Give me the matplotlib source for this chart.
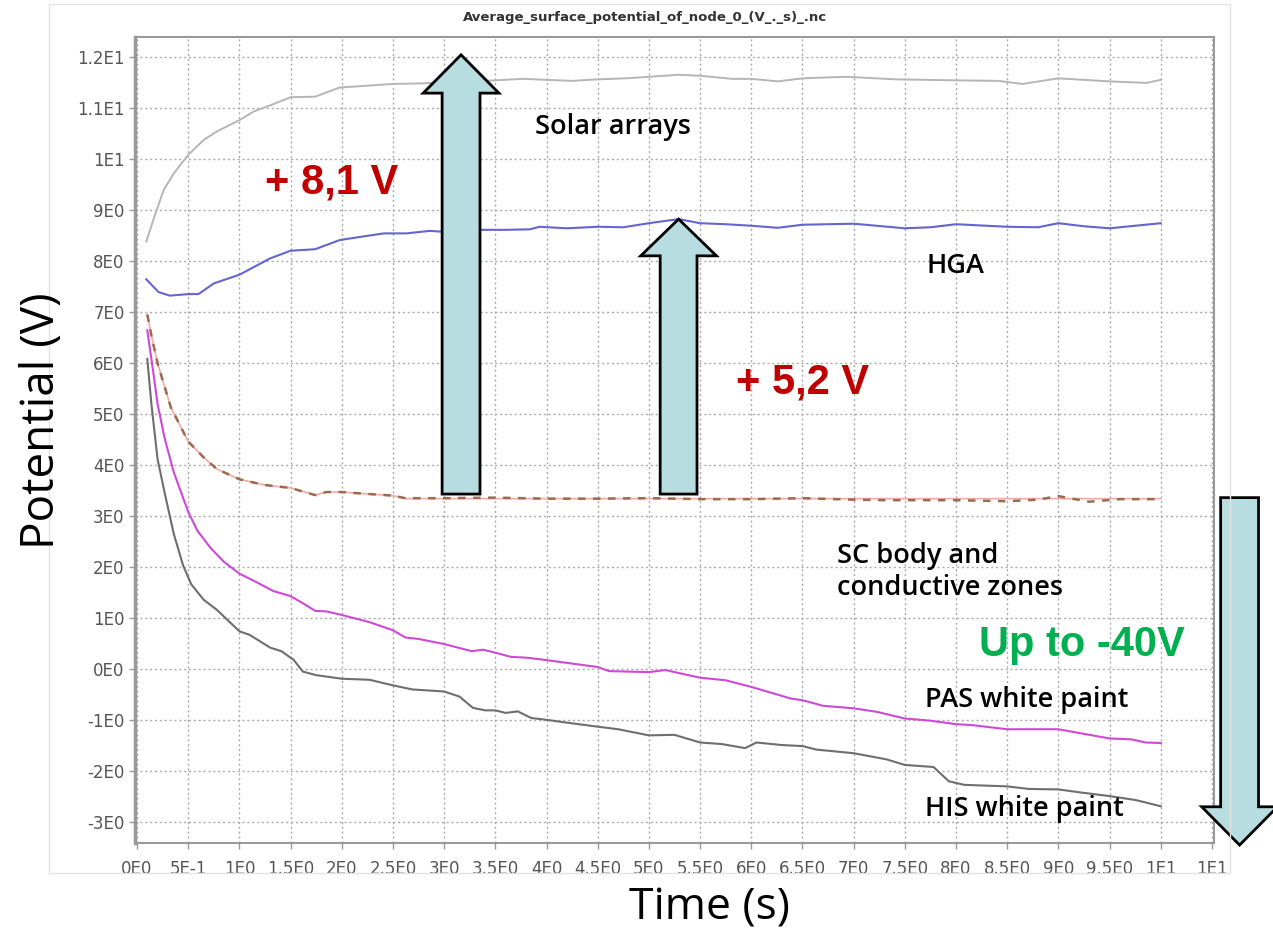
import numpy as np
import matplotlib
matplotlib.use('Agg')
import matplotlib.pyplot as plt
from matplotlib.patches import FancyArrow, Rectangle

# values (time in s, potential in V)
t_solar = [0.09, 0.18, 0.26, 0.36, 0.5, 0.65, 0.78, 1.0, 1.14, 1.3, 1.5, 1.74, 1.98, 2.21,
           2.5, 2.76, 3.0, 3.25, 3.5, 3.77, 4.0, 4.25, 4.5, 4.78, 5.0, 5.29, 5.5, 5.81, 6.0,
           6.26, 6.5, 6.93, 7.41, 8.0, 8.41, 8.65, 9.0, 9.5, 9.86, 10.0]
v_solar = [8.38, 8.93, 9.39, 9.72, 10.08, 10.37, 10.54, 10.76, 10.93, 11.05, 11.21, 11.22, 11.40, 11.43,
           11.47, 11.48, 11.50, 11.52, 11.54, 11.57, 11.55, 11.53, 11.56, 11.58, 11.61, 11.65, 11.63, 11.57, 11.57,
           11.52, 11.58, 11.61, 11.56, 11.54, 11.53, 11.47, 11.58, 11.52, 11.49, 11.55]

t_hga = [0.09, 0.21, 0.32, 0.5, 0.6, 0.75, 1.0, 1.3, 1.5, 1.74, 1.98, 2.21, 2.41, 2.63, 2.86, 3.0,
         3.35, 3.6, 3.84, 3.93, 4.2, 4.5, 4.75, 5.0, 5.29, 5.5, 5.75, 6.0, 6.26, 6.5, 7.0, 7.5,
         7.75, 8.0, 8.5, 8.8, 9.0, 9.25, 9.5, 10.0]
v_hga = [7.64, 7.39, 7.32, 7.35, 7.35, 7.56, 7.73, 8.05, 8.20, 8.23, 8.41, 8.48, 8.54, 8.54, 8.59, 8.57,
         8.61, 8.61, 8.62, 8.67, 8.64, 8.67, 8.66, 8.74, 8.82, 8.74, 8.72, 8.69, 8.65, 8.71, 8.73, 8.64,
         8.66, 8.72, 8.67, 8.66, 8.74, 8.68, 8.64, 8.74]

t_sc = [0.10, 0.14, 0.20, 0.27, 0.33, 0.5, 0.65, 0.78, 1.0, 1.24, 1.5, 1.62, 1.74, 1.85, 2.0, 2.27,
        2.5, 2.62, 3.0, 3.5, 4.0, 4.5, 5.0, 5.5, 6.0, 6.5, 7.0, 7.3, 7.5, 8.0, 8.5, 8.8, 9.0, 9.3,
        9.6, 10.0]
v_sc = [6.95, 6.54, 6.0, 5.53, 5.13, 4.46, 4.15, 3.92, 3.72, 3.61, 3.55, 3.48, 3.41, 3.47, 3.47, 3.43,
        3.40, 3.35, 3.35, 3.36, 3.34, 3.34, 3.35, 3.33, 3.33, 3.35, 3.32, 3.31, 3.31, 3.31, 3.29, 3.32, 3.39, 3.28,
        3.33, 3.33]

t_cond = [0.10, 0.14, 0.20, 0.27, 0.33, 0.5, 0.65, 0.78, 1.0, 1.24, 1.5, 1.62, 1.74, 1.85, 2.0, 2.27,
          2.5, 2.62, 10.0]
v_cond = [6.95, 6.54, 6.0, 5.53, 5.13, 4.46, 4.15, 3.92, 3.72, 3.61, 3.55, 3.48, 3.41, 3.47, 3.47, 3.43,
          3.40, 3.34, 3.34]

t_pas = [0.10, 0.155, 0.2, 0.27, 0.36, 0.5, 0.59, 0.72, 0.85, 1.0, 1.17, 1.33, 1.5, 1.62, 1.74, 1.85,
         2.0, 2.27, 2.5, 2.62, 2.75, 3.0, 3.27, 3.38, 3.5, 3.65, 3.82, 3.98, 4.5, 4.61, 5.0, 5.16,
         5.5, 5.75, 6.0, 6.39, 6.5, 6.7, 7.0, 7.23, 7.5, 7.74, 8.0, 8.16, 8.5, 9.0, 9.22, 9.5,
         9.72, 9.85, 10.0]
v_pas = [6.64, 5.87, 5.20, 4.52, 3.85, 3.08, 2.71, 2.37, 2.10, 1.87, 1.70, 1.53, 1.43, 1.29, 1.14, 1.13,
         1.06, 0.92, 0.76, 0.62, 0.59, 0.49, 0.35, 0.38, 0.32, 0.24, 0.22, 0.18, 0.04, -0.04, -0.06, -0.02,
         -0.17, -0.22, -0.35, -0.58, -0.61, -0.72, -0.77, -0.84, -0.97, -1.01, -1.08, -1.10, -1.18, -1.18, -1.26, -1.36,
         -1.38, -1.44, -1.45]

t_his = [0.10, 0.14, 0.2, 0.27, 0.36, 0.45, 0.53, 0.65, 0.78, 1.0, 1.1, 1.3, 1.41, 1.53, 1.62, 1.75,
         2.0, 2.27, 2.5, 2.69, 3.0, 3.15, 3.28, 3.4, 3.5, 3.6, 3.72, 3.85, 3.98, 4.16, 4.5, 4.7,
         5.0, 5.25, 5.5, 5.71, 5.94, 6.05, 6.3, 6.5, 6.64, 7.0, 7.32, 7.5, 7.78, 7.93, 8.08, 8.5,
         8.71, 9.0, 9.22, 9.5, 9.76, 10.0]
v_his = [6.08, 5.20, 4.12, 3.45, 2.64, 2.03, 1.66, 1.36, 1.16, 0.74, 0.67, 0.42, 0.35, 0.18, -0.05, -0.12,
         -0.19, -0.21, -0.32, -0.40, -0.44, -0.54, -0.76, -0.81, -0.81, -0.86, -0.83, -0.96, -0.99, -1.04, -1.13, -1.18,
         -1.30, -1.29, -1.44, -1.47, -1.55, -1.44, -1.49, -1.51, -1.58, -1.65, -1.77, -1.88, -1.92, -2.20, -2.27, -2.30,
         -2.35, -2.36, -2.42, -2.49, -2.57, -2.69]

x_ticks = [i * 0.5 for i in range(22)]
x_ticklabels = ['0E0', '5E-1', '1E0', '1.5E0', '2E0', '2.5E0', '3E0', '3.5E0', '4E0', '4.5E0', '5E0',
                '5.5E0', '6E0', '6.5E0', '7E0', '7.5E0', '8E0', '8.5E0', '9E0', '9.5E0', '1E1', '1E1']
y_ticks = list(range(-3, 13))
y_ticklabels = ['-3E0', '-2E0', '-1E0', '0E0', '1E0', '2E0', '3E0', '4E0', '5E0', '6E0', '7E0',
                '8E0', '9E0', '1E1', '1.1E1', '1.2E1']

W, H = 1273, 939
fig = plt.figure(figsize=(W / 100, H / 100), dpi=100)
ax = fig.add_axes([135 / W, 1 - 843 / H, (1214 - 135) / W, (843 - 37) / H])

# outer light panel border
fig.patches.append(Rectangle((49 / W, 1 - 873 / H), (1230 - 49) / W, (873 - 4) / H,
                             transform=fig.transFigure, fill=False, ec='#e2e2e2', lw=1))

ax.plot(t_solar, v_solar, color='#b5b5b5', lw=1.4)
ax.plot(t_hga, v_hga, color='#6464d2', lw=1.5)
ax.plot(t_cond, v_cond, color='#f3aaa4', lw=1.2)
ax.plot(t_sc, v_sc, color='#9a6b4f', lw=1.8, dashes=(3, 3))
ax.plot(t_pas, v_pas, color='#cf48d8', lw=1.5)
ax.plot(t_his, v_his, color='#6e6e6e', lw=1.5)

ax.set_xlim(-0.02, 10.52)
ax.set_ylim(-3.41, 12.39)
ax.set_xticks(x_ticks)
ax.set_xticklabels(x_ticklabels)
ax.set_yticks(y_ticks)
ax.set_yticklabels(y_ticklabels)
ax.tick_params(colors='#999999', labelcolor='#555555', labelsize=12, length=4, width=1)
ax.tick_params(axis='x', pad=8)
ax.grid(True, color='#aaaaaa', lw=1, linestyle=(0, (1.5, 2)))
for s in ax.spines.values():
    s.set_color('#999999')
    s.set_linewidth(1.5)
ax.spines['left'].set_linewidth(2.5)

# block arrows
arrow_kw = dict(length_includes_head=True, fc='#b7dde0', ec='black', lw=2, zorder=5, clip_on=False)
ax.add_patch(FancyArrow(3.165, 3.43, 0, 12.04 - 3.43, width=0.37, head_width=0.74, head_length=0.75, **arrow_kw))
ax.add_patch(FancyArrow(5.29, 3.43, 0, 8.82 - 3.43, width=0.36, head_width=0.74, head_length=0.72, **arrow_kw))
ax.add_patch(FancyArrow(10.77, 3.36, 0, -3.45 - 3.36, width=0.37, head_width=0.74, head_length=0.75, **arrow_kw))

red = dict(color='#c00000', fontsize=30, fontweight='bold', family='Liberation Sans', ha='center', va='center', zorder=6)
ax.text(1.90, 9.53, '+ 8,1 V', **red)
ax.text(6.50, 5.61, '+ 5,2 V', **red)
ax.text(9.23, 0.47, 'Up to -40V', color='#00b050', fontsize=30, fontweight='bold',
        family='Liberation Sans', ha='center', va='center', zorder=6)

lab = dict(color='black', fontsize=19.5, fontweight='semibold', family='Open Sans', va='center', zorder=6)
ax.text(4.65, 10.63, 'Solar arrays', ha='center', **lab)
ax.text(7.99, 7.90, 'HGA', ha='center', **lab)
ax.text(6.84, 1.90, 'SC body and\nconductive zones', ha='left', linespacing=1.2, **lab)
ax.text(7.70, -0.61, 'PAS white paint', ha='left', **lab)
ax.text(7.70, -2.75, 'HIS white paint', ha='left', **lab)

fig.text(645 / W, 1 - 17 / H, 'Average_surface_potential_of_node_0_(V_._s)_.nc', ha='center', va='center',
         fontsize=9.5, fontweight='bold', color='#333333')
fig.text(42 / W, 1 - 421 / H, 'Potential (V)', rotation=90, ha='center', va='center',
         fontsize=33, family='Open Sans', color='black')
fig.text(709 / W, 1 - 908 / H, 'Time (s)', ha='center', va='center',
         fontsize=32, family='Open Sans', color='black')

fig.savefig('out.png', dpi=100)
